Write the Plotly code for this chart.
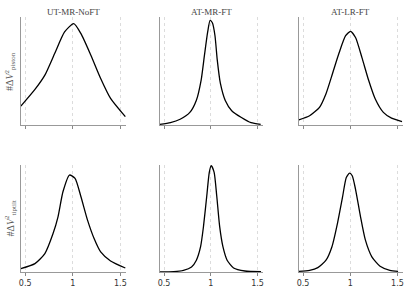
import plotly.graph_objects as go

titles = ["UT-MR-NoFT", "AT-MR-FT", "AT-LR-FT"]
ylabels = ["#Δ<i>V</i><sup>2</sup><sub>piston</sub>", "#Δ<i>V</i><sup>2</sup><sub>tiptilt</sub>"]
tick_vals = [0.5, 1, 1.5]
tick_text = ["0.5", "1", "1.5"]

# top row (piston)
ut_mr_noft_piston_x = [0.455, 0.603, 0.707, 0.810, 0.914, 1.010, 1.086, 1.190, 1.293, 1.397, 1.552]
ut_mr_noft_piston_y = [57, 107, 150, 215, 280, 305, 275, 210, 140, 80, 25]

at_mr_ft_piston_x = [0.455, 0.569, 0.672, 0.776, 0.845, 0.897, 0.931, 0.966, 0.993, 1.017, 1.045,
                     1.069, 1.103, 1.155, 1.224, 1.328, 1.431, 1.534]
at_mr_ft_piston_y = [2, 7, 17, 37, 72, 132, 202, 272, 307, 300, 262, 192, 122, 72, 42, 22, 7, 2]

at_lr_ft_piston_x = [0.455, 0.569, 0.674, 0.743, 0.813, 0.882, 0.951, 1.003, 1.056, 1.125, 1.194,
                     1.264, 1.351, 1.438, 1.549]
at_lr_ft_piston_y = [15, 27, 52, 92, 152, 212, 262, 275, 257, 197, 132, 77, 37, 20, 10]

# bottom row (tiptilt)
ut_mr_noft_tt_x = [0.455, 0.603, 0.707, 0.793, 0.845, 0.897, 0.966, 1.024, 1.086, 1.155, 1.224,
                   1.293, 1.397, 1.552]
ut_mr_noft_tt_y = [10, 25, 55, 115, 165, 240, 290, 280, 225, 155, 100, 60, 33, 12]

at_mr_ft_tt_x = [0.455, 0.604, 0.708, 0.794, 0.846, 0.891, 0.922, 0.957, 0.984, 1.005, 1.036,
                 1.064, 1.095, 1.130, 1.175, 1.244, 1.365, 1.538]
at_mr_ft_tt_y = [0, 1, 5, 15, 35, 75, 135, 225, 295, 315, 295, 225, 135, 75, 35, 12, 3, 1]

at_lr_ft_tt_x = [0.455, 0.569, 0.656, 0.743, 0.806, 0.865, 0.917, 0.958, 0.993, 1.021, 1.056,
                 1.108, 1.160, 1.229, 1.316, 1.420, 1.507]
at_lr_ft_tt_y = [2, 5, 13, 35, 75, 145, 220, 280, 293, 285, 245, 165, 95, 45, 17, 5, 2]

series = [
    (ut_mr_noft_piston_x, ut_mr_noft_piston_y, 325),
    (at_mr_ft_piston_x, at_mr_ft_piston_y, 317),
    (at_lr_ft_piston_x, at_lr_ft_piston_y, 317),
    (ut_mr_noft_tt_x, ut_mr_noft_tt_y, 320),
    (at_mr_ft_tt_x, at_mr_ft_tt_y, 317),
    (at_lr_ft_tt_x, at_lr_ft_tt_y, 317),
]

W, H = 415, 290
xdoms = [(19, 125), (159, 263), (299, 404)]
ydoms = [(17, 125), (165, 272)]

fig = go.Figure()
layout = dict(
    width=W, height=H, margin=dict(l=0, r=0, t=0, b=0),
    paper_bgcolor="white", plot_bgcolor="white", showlegend=False,
)
annotations = []
for i, (xs, ys, ymax) in enumerate(series):
    r, c = divmod(i, 3)
    k = i + 1
    xa = "xaxis" if k == 1 else f"xaxis{k}"
    ya = "yaxis" if k == 1 else f"yaxis{k}"
    fig.add_trace(go.Scatter(
        x=xs, y=ys, mode="lines",
        line=dict(color="black", width=1.3, shape="spline", smoothing=0.6),
        xaxis="x" if k == 1 else f"x{k}", yaxis="y" if k == 1 else f"y{k}",
        hoverinfo="skip",
    ))
    x0, x1 = xdoms[c]
    y0, y1 = ydoms[r]
    layout[xa] = dict(
        domain=[x0 / W, x1 / W], range=[0.455, 1.56],
        anchor="y" if k == 1 else f"y{k}",
        tickvals=tick_vals, ticktext=tick_text, showticklabels=(r == 1),
        ticks="outside", ticklen=3, tickcolor="#888", tickwidth=1,
        showline=True, linecolor="#999", linewidth=1,
        showgrid=True, gridcolor="#dcdcdc", griddash="dot", gridwidth=1,
        zeroline=False,
        tickfont=dict(family="DejaVu Sans", size=8, color="#333"),
    )
    layout[ya] = dict(
        domain=[1 - y1 / H, 1 - y0 / H], range=[0, ymax],
        anchor="x" if k == 1 else f"x{k}",
        showticklabels=False, ticks="", showgrid=False, zeroline=False,
        showline=True, linecolor="#999", linewidth=1,
    )
    if r == 0:
        annotations.append(dict(
            text=titles[c], x=(x0 + x1) / 2 / W, y=1 - 12 / H,
            xref="paper", yref="paper", showarrow=False,
            xanchor="center", yanchor="middle",
            font=dict(family="Liberation Serif", size=9, color="#444"),
        ))
    if c == 0:
        annotations.append(dict(
            text=ylabels[r], x=8 / W, y=1 - (y0 + y1) / 2 / H,
            xref="paper", yref="paper", showarrow=False, textangle=-90,
            xanchor="center", yanchor="middle",
            font=dict(family="Liberation Serif", size=10, color="#555"),
        ))

layout["annotations"] = annotations
fig.update_layout(**layout)
fig.write_html("out.html", config={"displayModeBar": False},
               post_script="document.body.style.margin='0';")
